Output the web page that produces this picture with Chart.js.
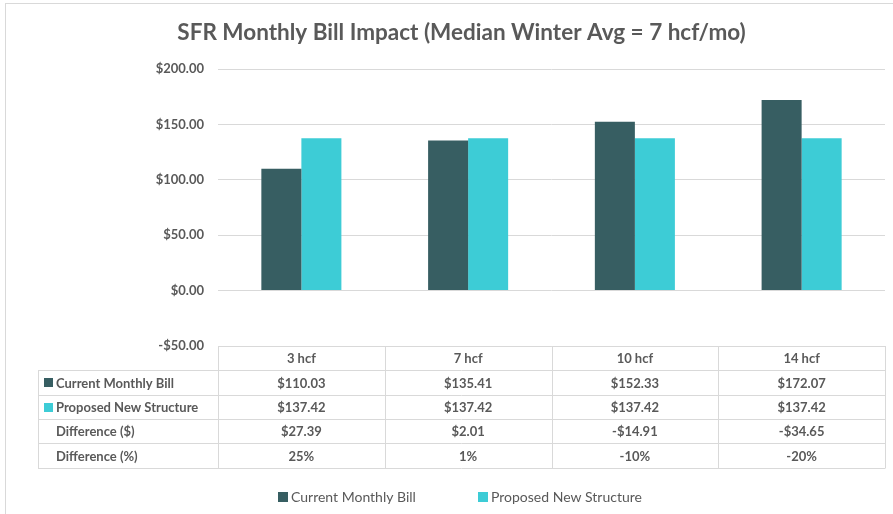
<!DOCTYPE html>
<html>
<head>
<meta charset="utf-8">
<script src="https://cdn.jsdelivr.net/npm/chart.js@4"></script>
<style>
  html, body { margin: 0; padding: 0; background: #fff; overflow: hidden; }
  #frame { position: absolute; left: 5px; top: 3px; width: 1000px; height: 600px; border: 1px solid #D9D9D9; }
  #wrap { position: absolute; left: 0; top: 0; width: 893px; height: 514px; }
</style>
</head>
<body>
<div id="frame"></div>
<div id="wrap"><canvas id="chart" width="893" height="514"></canvas></div>
<script>
const categories = ["3 hcf", "7 hcf", "10 hcf", "14 hcf"];
const currentBill = [110.03, 135.41, 152.33, 172.07];
const proposedBill = [137.42, 137.42, 137.42, 137.42];
const diffDollar = ["$27.39", "$2.01", "-$14.91", "-$34.65"];
const diffPct = ["25%", "1%", "-10%", "-20%"];

const DARK = "#375E62";
const CYAN = "#3DCCD6";
const TEXT = "#595959";
const LINE = "#D9D9D9";
const FONT = "Lato, 'Liberation Sans', sans-serif";

const money = v => (v < 0 ? "-$" : "$") + Math.abs(v).toFixed(2);

// DATA TABLE + LEGEND
const tablePlugin = {
  id: "dataTable",
  afterDraw(chart) {
    const c = chart.ctx;
    const area = chart.chartArea;
    const x = chart.scales.x;
    const colW = (area.right - area.left) / categories.length;
    const top = area.bottom;
    const rowH = 24.3;
    const labelLeft = 38;

    const rows = [
      { label: chart.data.datasets[0].label, color: DARK, cells: currentBill.map(money) },
      { label: chart.data.datasets[1].label, color: CYAN, cells: proposedBill.map(money) },
      { label: "Difference ($)", cells: diffDollar },
      { label: "Difference (%)", cells: diffPct }
    ];

    c.save();
    c.strokeStyle = LINE;
    c.lineWidth = 1;
    c.beginPath();
    // horizontal lines
    c.moveTo(area.left, top + 0.5); c.lineTo(area.right, top + 0.5);
    for (let r = 1; r <= rows.length + 1; r++) {
      const y = Math.round(top + r * rowH) + 0.5;
      c.moveTo(labelLeft, y); c.lineTo(area.right, y);
    }
    // vertical lines
    const bottom = Math.round(top + (rows.length + 1) * rowH) + 0.5;
    c.moveTo(labelLeft + 0.5, Math.round(top + rowH)); c.lineTo(labelLeft + 0.5, bottom);
    for (let i = 0; i <= categories.length; i++) {
      const xx = Math.round(area.left + i * colW) + 0.5;
      c.moveTo(xx, top); c.lineTo(xx, bottom);
    }
    c.stroke();

    c.fillStyle = TEXT;
    c.font = "bold 13px " + FONT;
    c.textBaseline = "middle";
    c.textAlign = "center";
    categories.forEach((cat, i) => {
      c.fillText(cat, x.getPixelForValue(i), top + rowH / 2 + 1);
    });
    rows.forEach((row, r) => {
      const yc = top + (r + 1.5) * rowH + 1;
      if (row.color) {
        c.fillStyle = row.color;
        c.fillRect(44, Math.round(yc - 5), 9, 9);
      }
      c.fillStyle = TEXT;
      c.textAlign = "left";
      c.fillText(row.label, 56, yc);
      c.textAlign = "center";
      row.cells.forEach((v, i) => c.fillText(v, x.getPixelForValue(i), yc));
    });

    // legend
    c.font = "14px " + FONT;
    c.textAlign = "left";
    const legendX = [278, 478];
    chart.data.datasets.forEach((ds, i) => {
      c.fillStyle = ds.backgroundColor;
      c.fillRect(legendX[i], 492, 10, 10);
      c.fillStyle = TEXT;
      c.fillText(ds.label, legendX[i] + 13, 497);
    });
    c.restore();
  }
};

const ctx = document.getElementById("chart");

new Chart(ctx, {
  type: "bar",
  data: {
    labels: categories,
    datasets: [
      { label: "Current Monthly Bill", data: currentBill, backgroundColor: DARK },
      { label: "Proposed New Structure", data: proposedBill, backgroundColor: CYAN }
    ]
  },
  options: {
    responsive: false,
    animation: false,
    devicePixelRatio: 1,
    layout: { padding: { left: 38, right: 8, top: 0, bottom: 0 } },
    datasets: { bar: { categoryPercentage: 0.48, barPercentage: 1 } },
    plugins: {
      legend: { display: false },
      tooltip: { enabled: false },
      title: {
        display: true,
        text: "SFR Monthly Bill Impact (Median Winter Avg = 7 hcf/mo)",
        color: TEXT,
        font: { family: FONT, size: 22.5, weight: "bold" },
        padding: { top: 19, bottom: 23 }
      }
    },
    scales: {
      x: {
        ticks: { display: false },
        grid: { display: false },
        border: { display: false },
        afterFit(scale) { scale.height = 168; }
      },
      y: {
        min: -50,
        max: 200,
        ticks: {
          stepSize: 50,
          padding: 14,
          color: TEXT,
          font: { family: FONT, size: 13, weight: "bold" },
          callback: v => money(v)
        },
        grid: { color: LINE, drawTicks: false },
        border: { display: false },
        afterFit(scale) { scale.width = 180; }
      }
    }
  },
  plugins: [tablePlugin]
});
</script>
</body>
</html>
